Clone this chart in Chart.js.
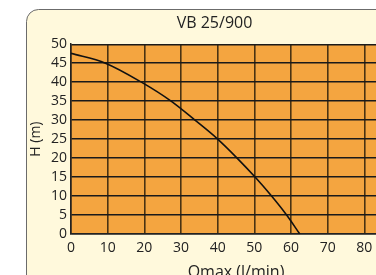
<!DOCTYPE html>
<html>
<head>
<meta charset="utf-8">
<script src="https://cdn.jsdelivr.net/npm/chart.js@4"></script>
<style>
  html, body { margin: 0; padding: 0; background: #fff; overflow: hidden; }
  #wrap { width: 430px; height: 282px; }
</style>
</head>
<body>
<div id="wrap"><canvas id="pump" width="430" height="282"></canvas></div>
<script>
// pump curve
const flow = [0, 9.4, 19.2, 27.3, 33.8, 40, 45.3, 50.2, 54.7, 58.8, 62.4];
const head = [47.6, 45, 40, 35, 30, 25, 20, 15, 10, 5, 0];
const xTicks = [0, 10, 20, 30, 40, 50, 60, 70, 80, 90];
const yTicks = [0, 5, 10, 15, 20, 25, 30, 35, 40, 45, 50];

const points = flow.map((q, i) => ({ x: q, y: head[i] }));

// cream panel with rounded corner, then orange plot area
const panelBg = {
    id: 'panelBg',
    beforeDraw(chart) {
        const ctx = chart.ctx;
        const a = chart.chartArea;
        ctx.save();
        ctx.fillStyle = '#fff9dc';
        ctx.strokeStyle = '#6b6b6b';
        ctx.lineWidth = 1;
        ctx.beginPath();
        ctx.roundRect(26.5, 9.5, 384, 300, 12);
        ctx.fill();
        ctx.stroke();
        ctx.fillStyle = '#f4a540';
        ctx.fillRect(a.left, a.top, a.right - a.left, a.bottom - a.top);
        ctx.restore();
    }
};

const font = "'Open Sans', 'DejaVu Sans', sans-serif";

const config = {
    type: 'scatter',
    data: {
        datasets: [{
            data: points,
            showLine: true,
            borderColor: '#111',
            borderWidth: 1.6,
            pointRadius: 0,
            cubicInterpolationMode: 'monotone',
        }]
    },
    options: {
        responsive: false,
        animation: false,
        layout: { padding: { left: 28, top: 14, right: 29, bottom: 0 } },
        plugins: {
            legend: { display: false },
            tooltip: { enabled: false },
            title: {
                display: true,
                text: 'VB 25/900',
                color: '#222',
                font: { family: font, size: 16, weight: 'normal' },
                padding: { top: 0, bottom: 11 }
            }
        },
        scales: {
            x: {
                type: 'linear',
                min: 0, max: 90,
                afterBuildTicks: s => { s.ticks = xTicks.map(v => ({ value: v })); },
                afterFit: s => { s.height = 48; },
                grid: { color: '#4a3312', lineWidth: 1.6, drawTicks: false },
                border: { color: '#222', width: 1.5 },
                ticks: { color: '#222', padding: 6, autoSkip: false, maxRotation: 0, font: { family: font, size: 14 } },
                title: {
                    display: true,
                    text: 'Qmax (l/min)',
                    color: '#222',
                    font: { family: font, size: 16 },
                    padding: { top: 4, bottom: 0 }
                }
            },
            y: {
                min: 0, max: 50,
                afterBuildTicks: s => { s.ticks = yTicks.map(v => ({ value: v })); },
                afterFit: s => { s.width = 43; },
                grid: { color: '#1a1a1a', lineWidth: 1.4, drawTicks: false },
                border: { color: '#222', width: 1.5 },
                ticks: { color: '#222', padding: 4, autoSkip: false, font: { family: font, size: 14 } },
                title: {
                    display: true,
                    text: 'H (m)',
                    color: '#222',
                    font: { family: font, size: 14 },
                    padding: 0
                }
            }
        }
    },
    plugins: [panelBg]
};

const pumpChart = new Chart(document.getElementById('pump'), config);
</script>
</body>
</html>
